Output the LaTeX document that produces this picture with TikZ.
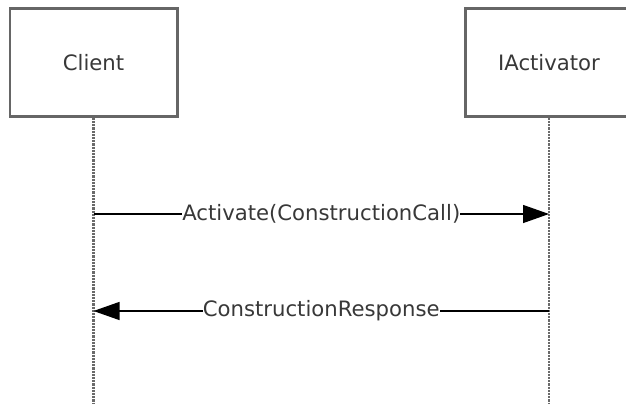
\documentclass[tikz,border=0pt]{standalone}
\usepackage{fontspec}
\setmainfont{DejaVu Sans}
\usetikzlibrary{arrows.meta}
\definecolor{boxline}{HTML}{666666}
\definecolor{txt}{HTML}{383838}
\definecolor{lifegray}{HTML}{6A6A6A}
\begin{document}
\begin{tikzpicture}[x=1pt,y=-1pt,
  actor/.style={draw=boxline,line width=2.5pt,fill=white,minimum width=167.5pt,minimum height=108pt,inner sep=0pt,font=\fontsize{21.2}{25}\selectfont,text=txt},
  lifeline/.style={draw=lifegray,line width=2.4pt,dash pattern=on 2.2pt off 1pt},
  msg/.style={draw=black,line width=1.3pt,-{Triangle[length=26pt,width=18pt]}},
  lbl/.style={fill=white,inner sep=0pt,font=\fontsize{21.2}{25}\selectfont,text=txt}]
\useasboundingbox (0,0) rectangle (626,404);
\node[actor] (client) at (93.5,62.5) {Client};
\node[actor] (act) at (549,62.5) {IActivator};
\coordinate (cend) at (93.5,404);
\coordinate (aend) at (549,404);
\draw[lifeline] (client.south) -- (cend);
\draw[lifeline] (act.south) -- (aend);
\coordinate (c1) at (93.5,214);
\coordinate (a1) at (549,214);
\coordinate (c2) at (93.5,311);
\coordinate (a2) at (549,311);
\draw[msg] (c1) -- node[lbl] {Activate(ConstructionCall)} (a1);
\draw[msg] (a2) -- node[lbl] {ConstructionResponse} (c2);
\end{tikzpicture}
\end{document}
